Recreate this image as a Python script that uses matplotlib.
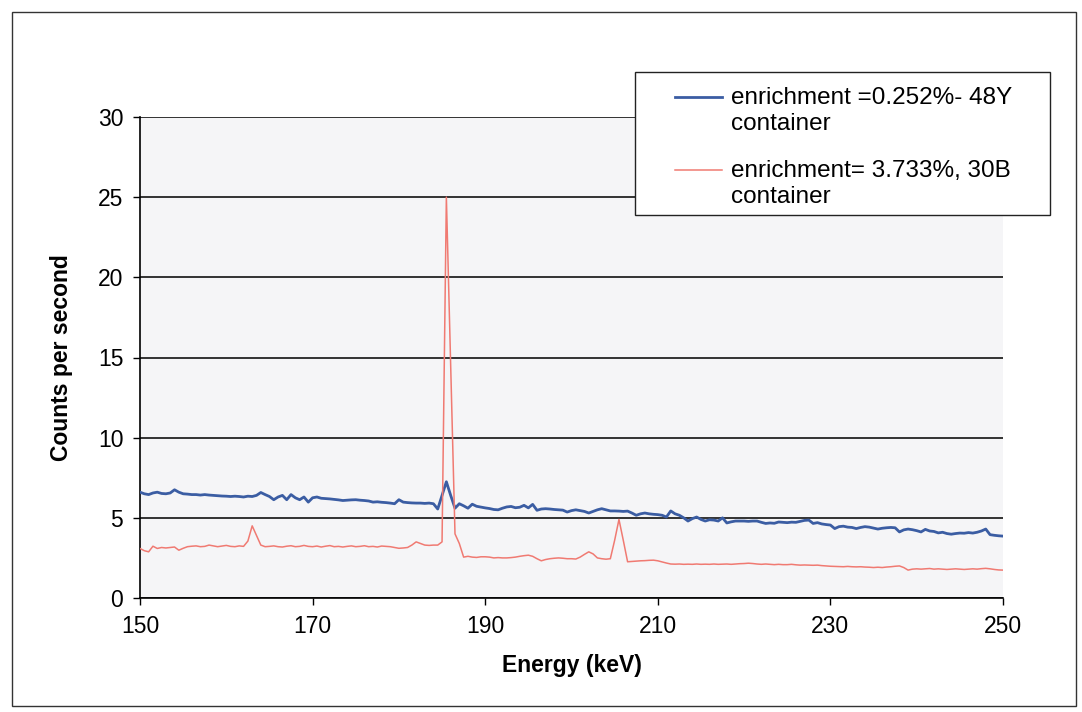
import numpy as np
import matplotlib
matplotlib.use('Agg')
import matplotlib.pyplot as plt
from matplotlib.patches import Rectangle
from matplotlib.lines import Line2D

plt.rcParams['font.family'] = ['Liberation Sans', 'DejaVu Sans']

# energy channels (keV), 0.5 keV step
energy = np.arange(150, 250.01, 0.5)

# enrichment 0.252%, 48Y container
blue = [
    6.60, 6.50, 6.45, 6.55, 6.60, 6.52, 6.50, 6.55, 6.75, 6.60,
    6.50, 6.48, 6.45, 6.45, 6.42, 6.45, 6.42, 6.40, 6.38, 6.36,
    6.35, 6.33, 6.35, 6.33, 6.30, 6.35, 6.33, 6.40, 6.58, 6.45,
    6.33, 6.13, 6.30, 6.40, 6.13, 6.45, 6.25, 6.13, 6.30, 5.98,
    6.25, 6.30, 6.22, 6.20, 6.18, 6.15, 6.12, 6.08, 6.10, 6.12,
    6.13, 6.10, 6.08, 6.05, 5.98, 6.00, 5.97, 5.95, 5.92, 5.88,
    6.13, 5.98, 5.95, 5.93, 5.92, 5.92, 5.90, 5.92, 5.88, 5.55,
    6.40, 7.25, 6.40, 5.60, 5.88, 5.75, 5.60, 5.85, 5.72, 5.67,
    5.62, 5.58, 5.52, 5.50, 5.60, 5.68, 5.71, 5.63, 5.66, 5.78,
    5.62, 5.84, 5.47, 5.55, 5.57, 5.55, 5.52, 5.50, 5.48, 5.36,
    5.45, 5.50, 5.45, 5.40, 5.30, 5.40, 5.50, 5.57, 5.50, 5.43,
    5.43, 5.42, 5.40, 5.42, 5.30, 5.16, 5.25, 5.30, 5.25, 5.22,
    5.20, 5.16, 5.05, 5.43, 5.25, 5.16, 5.00, 4.80, 4.95, 5.05,
    4.90, 4.80, 4.88, 4.86, 4.80, 5.00, 4.68, 4.75, 4.80, 4.80,
    4.80, 4.78, 4.80, 4.80, 4.72, 4.65, 4.68, 4.66, 4.74, 4.72,
    4.70, 4.73, 4.72, 4.78, 4.84, 4.86, 4.65, 4.70, 4.62, 4.58,
    4.55, 4.33, 4.45, 4.48, 4.42, 4.40, 4.33, 4.40, 4.45, 4.42,
    4.36, 4.30, 4.35, 4.38, 4.40, 4.38, 4.12, 4.25, 4.30, 4.26,
    4.20, 4.12, 4.28, 4.18, 4.15, 4.06, 4.10, 4.02, 3.98, 4.02,
    4.05, 4.04, 4.08, 4.05, 4.10, 4.18, 4.30, 3.95, 3.91, 3.88,
    3.86,
]

# enrichment 3.733%, 30B container
red = [
    3.09, 2.95, 2.88, 3.23, 3.09, 3.15, 3.12, 3.15, 3.18, 2.98,
    3.10, 3.20, 3.23, 3.25, 3.20, 3.22, 3.30, 3.25, 3.20, 3.24,
    3.28, 3.22, 3.20, 3.25, 3.22, 3.55, 4.50, 3.90, 3.30, 3.20,
    3.22, 3.25, 3.20, 3.18, 3.23, 3.26, 3.20, 3.22, 3.28, 3.22,
    3.20, 3.24, 3.18, 3.23, 3.27, 3.20, 3.22, 3.18, 3.22, 3.25,
    3.20, 3.22, 3.26, 3.20, 3.22, 3.18, 3.24, 3.22, 3.20, 3.15,
    3.10, 3.12, 3.15, 3.30, 3.50, 3.40, 3.30, 3.28, 3.30, 3.30,
    3.50, 25.0, 14.5, 4.00, 3.40, 2.55, 2.60, 2.55, 2.53, 2.57,
    2.57, 2.55, 2.50, 2.52, 2.50, 2.50, 2.52, 2.55, 2.60, 2.64,
    2.67, 2.60, 2.45, 2.32, 2.40, 2.45, 2.48, 2.50, 2.48, 2.45,
    2.45, 2.43, 2.55, 2.72, 2.88, 2.75, 2.50, 2.45, 2.42, 2.45,
    3.60, 4.90, 3.60, 2.26, 2.28, 2.30, 2.32, 2.33, 2.35, 2.36,
    2.32, 2.25, 2.18, 2.12, 2.11, 2.12, 2.10, 2.11, 2.10, 2.12,
    2.10, 2.11, 2.10, 2.12, 2.10, 2.11, 2.12, 2.10, 2.12, 2.14,
    2.15, 2.17, 2.15, 2.12, 2.10, 2.12, 2.10, 2.08, 2.10, 2.08,
    2.08, 2.10, 2.07, 2.05, 2.06, 2.05, 2.04, 2.05, 2.02, 2.00,
    1.98, 1.97, 1.96, 1.95, 1.97, 1.95, 1.94, 1.95, 1.93, 1.92,
    1.90, 1.92, 1.90, 1.93, 1.95, 1.98, 2.00, 1.90, 1.74, 1.80,
    1.82, 1.80, 1.82, 1.84, 1.80, 1.82, 1.80, 1.78, 1.80, 1.82,
    1.80, 1.78, 1.80, 1.82, 1.80, 1.83, 1.85, 1.82, 1.78, 1.75,
    1.74,
]

labels = ['enrichment =0.252%- 48Y\ncontainer', 'enrichment= 3.733%, 30B\ncontainer']
colors = ['#3b5da3', '#f07a72']
widths = [2.0, 1.1]
xticks = [150, 170, 190, 210, 230, 250]
yticks = [0, 5, 10, 15, 20, 25, 30]

W, H = 1082, 712
fig = plt.figure(figsize=(W/100, H/100), dpi=100)
ax = fig.add_axes([140/W, 1-598/H, 863/W, 481/H])
ax.set_facecolor('#f5f5f7')

ax.plot(energy, blue, color=colors[0], lw=widths[0], zorder=3)
ax.plot(energy, red, color=colors[1], lw=widths[1], zorder=3)

ax.set_xlim(150, 250)
ax.set_ylim(0, 30)
ax.set_xticks(xticks)
ax.set_yticks(yticks)
ax.yaxis.grid(True, color='#111111', lw=1.2)
ax.set_axisbelow(True)
for s in ['top', 'right']:
    ax.spines[s].set_visible(False)
ax.spines['left'].set_linewidth(1.2)
ax.spines['bottom'].set_linewidth(1.2)
ax.tick_params(axis='both', labelsize=16.5, length=5, width=1, direction='out', pad=7)

ax.set_xlabel('Energy (keV)', fontsize=16.5, fontweight='bold', labelpad=12)
ax.set_ylabel('Counts per second', fontsize=16.5, fontweight='bold', labelpad=18)

# legend box drawn by hand: handle sits on the first text line like the Excel one
def fx(px):
    return px / W

def fy(py):
    return 1 - py / H

fig.patches.append(Rectangle((fx(635), fy(215)), fx(415), 143/H, transform=fig.transFigure,
                             facecolor='white', edgecolor='#222222', lw=1, zorder=5))
for i, (lab, c, lw) in enumerate(zip(labels, colors, widths)):
    y0 = 97 + i * 73
    fig.add_artist(Line2D([fx(675), fx(722)], [fy(y0), fy(y0)], color=c, lw=lw,
                          transform=fig.transFigure, zorder=6))
    fig.text(fx(731), fy(y0 - 10), lab, fontsize=17.5, va='top', ha='left',
             linespacing=1.25, zorder=6)

# outer chart border
fig.patches.append(Rectangle((fx(12), fy(706)), fx(1064), 694/H, transform=fig.transFigure,
                             fill=False, edgecolor='#333333', lw=1))

fig.savefig('out.png', dpi=100)
